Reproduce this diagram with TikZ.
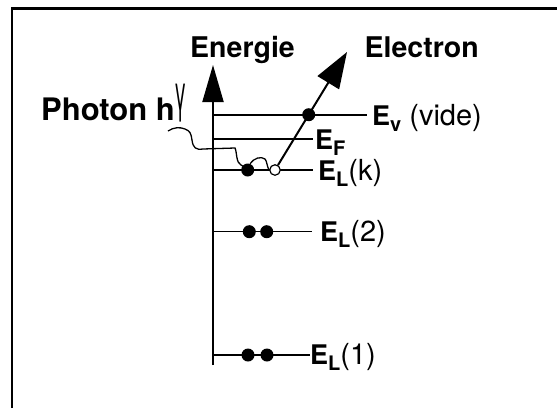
\documentclass[tikz,border=0pt]{standalone}
\usepackage{fontspec}
\setmainfont{TeX Gyre Heros}
\usetikzlibrary{arrows.meta}
\newcommand{\elvl}[2]{\textbf{E}\raisebox{-6pt}{\fontsize{20}{20}\selectfont\textbf{#1}}{\fontsize{29}{30}\selectfont#2}}
\begin{document}
\begin{tikzpicture}[x=1pt,y=-1pt,
  lvl/.style={line width=1.4pt},
  wave/.style={line width=1.3pt},
  dot/.style={circle,fill=black,inner sep=0pt,minimum size=13pt},
  hole/.style={circle,draw=black,fill=white,line width=1.2pt,inner sep=0pt,minimum size=10.5pt},
  title/.style={anchor=base,inner sep=0pt,font=\fontsize{28.5}{30}\selectfont\bfseries},
  lbl/.style={anchor=base west,inner sep=0pt,font=\fontsize{27}{28}\selectfont}]
\useasboundingbox (0,0) rectangle (557,408);
% frame
\coordinate(fb) at (12,408);
\coordinate(fc) at (12,8.5);
\coordinate(fr) at (557,8.5);
\draw[line width=2.4pt] (fb) -- (fc) -- (fr);
%
\coordinate(ax0) at (213,365);
\coordinate(axtip) at (213,65);
\draw[line width=2pt,-{Triangle[length=37pt,width=21pt]}] (ax0) -- (axtip);
\node[title](energie) at (242.5,57) {Energie};
%
\coordinate(ev0) at (213,115);
\coordinate(ev1) at (367,115);
\draw[lvl](ev0) -- (ev1);
\node[lbl](Ev) at (372,125) {\elvl{v}{ (vide)}};
%
\coordinate(ef0) at (213,139);
\coordinate(ef1) at (313,139);
\draw[lvl](ef0) -- (ef1);
\node[lbl](EF) at (315,149) {\elvl{F}{}};
%
\coordinate(ek0) at (213,170);
\coordinate(ek1) at (313,170);
\draw[lvl](ek0) -- (ek1);
\node[lbl](ELk) at (318,180) {\elvl{L}{(k)}};
%
\coordinate(e20) at (213,231.7);
\coordinate(e21) at (311.7,231.7);
\draw[lvl](e20) -- (e21);
\node[lbl](EL2) at (320,241) {\elvl{L}{(2)}};
%
\coordinate(e10) at (213,355);
\coordinate(e11) at (310,355);
\draw[lvl](e10) -- (e11);
\node[lbl](EL1) at (310,364.5) {\elvl{L}{(1)}};
%
\node[dot](dk) at (247.7,170) {};
\node[hole](hk) at (275,170) {};
\node[dot](d2a) at (249.3,231.7) {};
\node[dot](d2b) at (266.7,231.7) {};
\node[dot](d1a) at (248,355) {};
\node[dot](d1b) at (267,355) {};
%
\node[anchor=base west,inner sep=0pt,font=\fontsize{31}{33}\selectfont\bfseries](photon) at (41,120) {Photon h};
\node[anchor=south,inner sep=0pt,font=\fontsize{24}{24}\selectfont](gam) at (181,122) {\scalebox{0.8}[2.1]{γ}};
\coordinate(ph0) at (168,131);
\draw[wave](ph0) .. controls (174,127) and (180,127) .. (185,129) .. controls (190,131) and (191,133) .. (192,140) .. controls (193,148) and (196,150) .. (203,149) -- (235,148) .. controls (237,152) and (236,163) .. (241,165) .. controls (243,166) and (244,167) .. (dk);
\draw[wave](dk.70) .. controls (254,158) and (261,156) .. (265,159) .. controls (267,161) and (267,167) .. (hk.180);
%
\coordinate(etip) at (347,52);
\draw[line width=2pt,-{Triangle[length=36pt,width=25pt]}] (hk) -- node[dot,pos=0.445](dv){} (etip);
\node[title](electron) at (421.7,57) {Electron};
\end{tikzpicture}
\end{document}
